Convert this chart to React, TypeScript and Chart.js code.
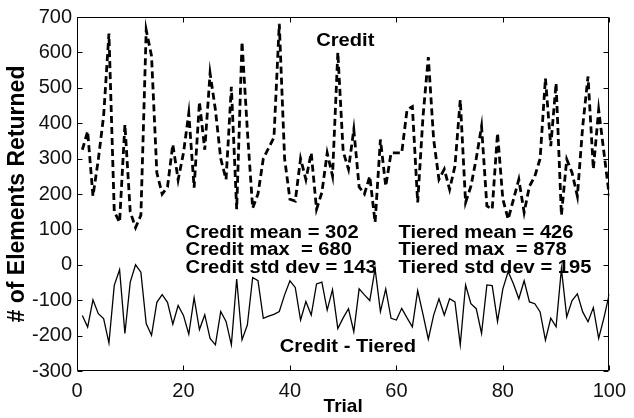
import React, { useEffect, useRef } from "react";
import { Chart, registerables } from "chart.js";

Chart.register(...registerables);

// ---------- data ----------
const trials: number[] = Array.from({ length: 100 }, (_, i) => i + 1);

const creditValues: number[] = [
  325, 377, 194, 297, 420, 653, 150, 120, 396, 150,
  105, 140, 663, 590, 260, 200, 220, 340, 240, 316,
  428, 218, 460, 325, 541, 438, 300, 241, 503, 157,
  630, 380, 160, 200, 300, 330, 360, 681, 300, 185,
  180, 300, 241, 316, 157, 204, 316, 251, 600, 320,
  270, 382, 220, 200, 250, 120, 354, 222, 316, 316,
  316, 438, 447, 176, 419, 587, 354, 241, 270, 213,
  279, 466, 176, 222, 300, 391, 166, 157, 372, 185,
  129, 185, 241, 148, 222, 250, 300, 527, 335, 513,
  140, 298, 260, 194, 391, 532, 270, 438, 316, 194,
];

const diffValues: number[] = [
  -143, -176, -99, -138, -152, -221, -58, -14, -194, -49,
  0, -21, -166, -199, -106, -84, -106, -168, -115, -143,
  -196, -93, -183, -141, -208, -226, -132, -160, -226, -40,
  -212, -170, -36, -45, -151, -145, -140, -132, -85, -45,
  -64, -156, -104, -142, -54, -49, -128, -70, -180, -150,
  -124, -189, -68, -85, -101, -11, -132, -68, -151, -156,
  -123, -150, -175, -73, -140, -210, -142, -96, -142, -96,
  -105, -226, -57, -110, -124, -194, -57, -59, -160, -68,
  -19, -54, -96, -45, -105, -110, -133, -213, -151, -175,
  -11, -147, -101, -82, -133, -161, -121, -208, -149, -82,
];

const xTickValues: number[] = [0, 20, 40, 60, 80, 100];
const yTickValues: number[] = [-300, -200, -100, 0, 100, 200, 300, 400, 500, 600, 700];

const creditStats: string[] = ["Credit mean = 302", "Credit max  = 680", "Credit std dev = 143"];
const tieredStats: string[] = ["Tiered mean = 426", "Tiered max  = 878", "Tiered std dev = 195"];
const creditLabel = "Credit";
const diffLabel = "Credit - Tiered";
const xTitle = "Trial";
const yTitle = "# of Elements Returned";

// ---------- layout / style ----------
const FONT = "'Liberation Sans', Arial, Helvetica, sans-serif";
const TICK_LEN = 5;
const TEXT_STRETCH = 1.12;
const STATS_LINE = 17.5;

const frameTicksPlugin = {
  id: "frameTicks",
  afterDatasetsDraw(chart: any) {
    const { ctx, chartArea: a, scales } = chart;
    const xs = scales.x;
    const ys = scales.y;
    ctx.save();
    ctx.strokeStyle = "#000";
    ctx.lineWidth = 1;
    const L = Math.round(a.left) + 0.5;
    const R = Math.round(a.right) - 0.5;
    const T = Math.round(a.top) + 0.5;
    const B = Math.round(a.bottom) - 0.5;
    ctx.beginPath();
    ctx.rect(L, T, R - L, B - T);
    for (const v of xTickValues) {
      const px = Math.round(xs.getPixelForValue(v)) + 0.5;
      ctx.moveTo(px, B);
      ctx.lineTo(px, B - TICK_LEN);
      ctx.moveTo(px, T);
      ctx.lineTo(px, T + TICK_LEN);
    }
    for (const v of yTickValues) {
      const py = Math.round(ys.getPixelForValue(v)) + 0.5;
      ctx.moveTo(L, py);
      ctx.lineTo(L + TICK_LEN, py);
      ctx.moveTo(R, py);
      ctx.lineTo(R - TICK_LEN, py);
    }
    ctx.stroke();
    ctx.restore();
  },
};

function drawStretched(ctx: CanvasRenderingContext2D, text: string, x: number, y: number, align: "left" | "center") {
  ctx.save();
  ctx.translate(x, y);
  ctx.scale(TEXT_STRETCH, 1);
  ctx.textAlign = align;
  ctx.textBaseline = "alphabetic";
  ctx.fillText(text, 0, 0);
  ctx.restore();
}

const annotationPlugin = {
  id: "annotations",
  afterDatasetsDraw(chart: any) {
    const { ctx, scales } = chart;
    const xs = scales.x;
    const ys = scales.y;
    ctx.save();
    ctx.fillStyle = "#000";
    ctx.font = `bold 18px ${FONT}`;
    // series labels (anchored in data coordinates)
    drawStretched(ctx, creditLabel, xs.getPixelForValue(50.4), ys.getPixelForValue(618), "center");
    drawStretched(ctx, diffLabel, xs.getPixelForValue(50.9), ys.getPixelForValue(-247), "center");
    // stats blocks
    const baseY = ys.getPixelForValue(76);
    creditStats.forEach((s, i) => {
      drawStretched(ctx, s, xs.getPixelForValue(20.4), baseY + i * STATS_LINE, "left");
    });
    tieredStats.forEach((s, i) => {
      drawStretched(ctx, s, xs.getPixelForValue(60.4), baseY + i * STATS_LINE, "left");
    });
    ctx.restore();
  },
};

export default function App() {
  const canvasRef = useRef<HTMLCanvasElement | null>(null);

  useEffect(() => {
    const canvas = canvasRef.current;
    if (!canvas) return;
    const creditData = trials.map((t, i) => ({ x: t, y: creditValues[i] }));
    const diffData = trials.map((t, i) => ({ x: t, y: diffValues[i] }));

    const chart = new Chart(canvas, {
      type: "line",
      data: {
        datasets: [
          {
            label: diffLabel,
            data: diffData,
            borderColor: "#000",
            borderWidth: 1.3,
            pointRadius: 0,
            tension: 0,
            fill: false,
          },
          {
            label: creditLabel,
            data: creditData,
            borderColor: "#000",
            borderWidth: 2.8,
            borderDash: [7, 4],
            pointRadius: 0,
            tension: 0,
            fill: false,
          },
        ],
      },
      options: {
        animation: false,
        responsive: false,
        maintainAspectRatio: false,
        layout: { padding: { top: 15, right: 17, left: 0, bottom: 0 } },
        plugins: {
          legend: { display: false },
          tooltip: { enabled: false },
        },
        scales: {
          x: {
            type: "linear",
            min: 0,
            max: 100,
            grid: { display: false, drawTicks: false },
            border: { display: false },
            ticks: {
              stepSize: 20,
              color: "#111",
              padding: 8,
              maxRotation: 0,
              font: { family: FONT, size: 20 },
            },
            title: {
              display: true,
              text: xTitle,
              color: "#000",
              padding: { top: 0, bottom: 0 },
              font: { family: FONT, size: 19, weight: "bold" },
            },
            afterFit(scale: any) {
              scale.height = 47;
            },
          },
          y: {
            type: "linear",
            min: -300,
            max: 700,
            grid: { display: false, drawTicks: false },
            border: { display: false },
            ticks: {
              stepSize: 100,
              autoSkip: false,
              color: "#111",
              padding: 5,
              font: { family: FONT, size: 20 },
            },
            title: {
              display: true,
              text: yTitle,
              color: "#000",
              padding: { top: 4, bottom: 0 },
              font: { family: FONT, size: 23, weight: "bold" },
            },
            afterFit(scale: any) {
              scale.width = 77;
            },
          },
        },
      },
      plugins: [frameTicksPlugin, annotationPlugin],
    });

    return () => {
      chart.destroy();
    };
  }, []);

  return (
    <div style={{ position: "absolute", left: 0, top: 0, width: 634, height: 418, background: "#fff" }}>
      <canvas ref={canvasRef} width={634} height={418} style={{ display: "block", width: 634, height: 418 }} />
    </div>
  );
}
